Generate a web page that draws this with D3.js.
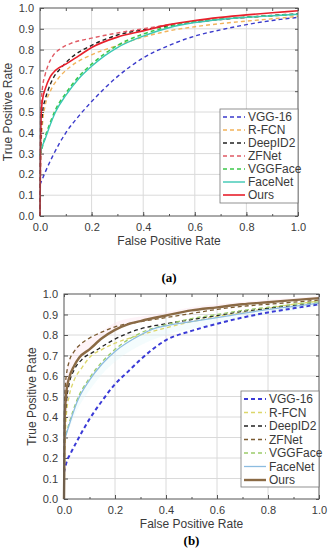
<!DOCTYPE html>
<html>
<head>
<meta charset="utf-8">
<script src="https://cdn.jsdelivr.net/npm/d3@7"></script>
<style>
  body { margin: 0; background: #fff; }
  svg { display: block; font-family: "Liberation Sans", Arial, sans-serif; }
</style>
</head>
<body>
<svg width="330" height="550"></svg>
<script>
// series names (same order in both panels)
let names = ['VGG-16', 'R-FCN', 'DeepID2', 'ZFNet', 'VGGFace', 'FaceNet', 'Ours'];

let xTicks = [0, 0.2, 0.4, 0.6, 0.8, 1.0];
let yTicks = [0, 0.1, 0.2, 0.3, 0.4, 0.5, 0.6, 0.7, 0.8, 0.9, 1.0];

// panel (a) values [FPR, TPR]
let vgg16A = [[0,0.15],[0.01,0.18],[0.02,0.21],[0.05,0.29],[0.1,0.40],[0.15,0.48],[0.2,0.55],[0.3,0.67],[0.4,0.76],[0.5,0.82],[0.6,0.865],[0.7,0.895],[0.8,0.92],[0.9,0.94],[1.0,0.955]];
let rfcnA = [[0,0],[0.003,0.3],[0.01,0.45],[0.02,0.53],[0.04,0.6],[0.07,0.66],[0.12,0.72],[0.2,0.775],[0.3,0.82],[0.4,0.86],[0.5,0.89],[0.6,0.91],[0.7,0.925],[0.8,0.937],[0.9,0.948],[1.0,0.96]];
let deepid2A = [[0,0],[0.003,0.35],[0.01,0.5],[0.02,0.56],[0.03,0.6],[0.05,0.66],[0.08,0.71],[0.12,0.76],[0.2,0.82],[0.3,0.87],[0.4,0.895],[0.5,0.915],[0.6,0.932],[0.7,0.945],[0.8,0.955],[0.9,0.964],[1.0,0.972]];
let zfnetA = [[0,0],[0.002,0.45],[0.005,0.55],[0.01,0.62],[0.02,0.68],[0.03,0.72],[0.05,0.77],[0.08,0.805],[0.12,0.83],[0.2,0.855],[0.3,0.88],[0.4,0.9],[0.5,0.92],[0.6,0.935],[0.7,0.946],[0.8,0.955],[0.9,0.963],[1.0,0.97]];
let vggfaceA = [[0,0.29],[0.02,0.38],[0.04,0.45],[0.06,0.51],[0.1,0.59],[0.15,0.67],[0.2,0.73],[0.3,0.82],[0.4,0.875],[0.5,0.91],[0.6,0.935],[0.7,0.947],[0.8,0.956],[0.9,0.963],[1.0,0.97]];
let facenetA = [[0,0.29],[0.005,0.32],[0.02,0.37],[0.04,0.44],[0.06,0.5],[0.1,0.58],[0.15,0.66],[0.2,0.72],[0.25,0.77],[0.3,0.81],[0.4,0.865],[0.5,0.905],[0.6,0.93],[0.7,0.945],[0.8,0.955],[0.9,0.963],[1.0,0.97]];
let oursA = [[0,0],[0.002,0.3],[0.005,0.5],[0.01,0.56],[0.02,0.61],[0.04,0.67],[0.06,0.7],[0.1,0.73],[0.15,0.77],[0.2,0.81],[0.3,0.86],[0.4,0.89],[0.5,0.92],[0.6,0.94],[0.7,0.955],[0.8,0.967],[0.9,0.977],[1.0,0.987]];

// panel (b) values [FPR, TPR]
let vgg16B = [[0,0.13],[0.01,0.18],[0.025,0.22],[0.05,0.28],[0.1,0.39],[0.15,0.48],[0.2,0.56],[0.25,0.62],[0.3,0.68],[0.4,0.775],[0.5,0.82],[0.6,0.855],[0.7,0.885],[0.8,0.91],[0.9,0.93],[1.0,0.95]];
let rfcnB = [[0,0],[0.005,0.3],[0.01,0.42],[0.02,0.5],[0.04,0.58],[0.07,0.64],[0.1,0.69],[0.15,0.73],[0.2,0.76],[0.3,0.8],[0.4,0.835],[0.5,0.865],[0.6,0.89],[0.7,0.91],[0.8,0.93],[0.9,0.95],[1.0,0.965]];
let deepid2B = [[0,0],[0.003,0.35],[0.01,0.48],[0.02,0.56],[0.04,0.63],[0.07,0.68],[0.12,0.72],[0.2,0.78],[0.3,0.83],[0.4,0.855],[0.5,0.875],[0.6,0.895],[0.7,0.915],[0.8,0.93],[0.9,0.943],[1.0,0.955]];
let zfnetB = [[0,0],[0.002,0.45],[0.005,0.55],[0.01,0.61],[0.02,0.67],[0.04,0.72],[0.07,0.76],[0.1,0.785],[0.15,0.815],[0.2,0.84],[0.3,0.865],[0.4,0.885],[0.5,0.905],[0.6,0.925],[0.7,0.94],[0.8,0.95],[0.9,0.96],[1.0,0.97]];
let vggfaceB = [[0,0.28],[0.02,0.37],[0.05,0.48],[0.1,0.59],[0.15,0.67],[0.2,0.73],[0.3,0.81],[0.4,0.85],[0.5,0.88],[0.6,0.9],[0.7,0.92],[0.8,0.935],[0.9,0.95],[1.0,0.962]];
let facenetB = [[0,0.28],[0.02,0.36],[0.05,0.47],[0.1,0.58],[0.15,0.66],[0.2,0.72],[0.3,0.8],[0.35,0.83],[0.4,0.845],[0.5,0.865],[0.6,0.885],[0.7,0.905],[0.8,0.925],[0.9,0.94],[1.0,0.955]];
let oursB = [[0,0],[0.003,0.4],[0.01,0.53],[0.02,0.59],[0.04,0.65],[0.06,0.69],[0.1,0.73],[0.15,0.785],[0.2,0.825],[0.25,0.852],[0.3,0.868],[0.4,0.895],[0.5,0.92],[0.6,0.935],[0.7,0.95],[0.8,0.96],[0.9,0.97],[1.0,0.98]];

// faint bands in panel (b)
let oursBandB = [[0.0,0.55],[0.02,0.68],[0.05,0.74],[0.1,0.78],[0.15,0.82],[0.2,0.86],[0.3,0.89],[0.4,0.91],[0.5,0.935],[0.6,0.95],[0.7,0.962],[0.8,0.972],[0.9,0.98],[1.0,0.99]];
let facenetBandB = [[0.02,0.34],[0.05,0.43],[0.1,0.53],[0.15,0.61],[0.2,0.67],[0.3,0.75],[0.4,0.8],[0.5,0.83],[0.6,0.855],[0.7,0.88],[0.8,0.9],[0.9,0.92],[1.0,0.94]];

let svg = d3.select('svg');

let drawPanel = (p) => {
    let x = d3.scaleLinear().domain([0, 1]).range([p.left, p.right]);
    let y = d3.scaleLinear().domain([0, 1]).range([p.bottom, p.top]);
    let g = svg.append('g');

    // grid
    g.selectAll('.gx').data(xTicks.slice(1, -1)).enter().append('line')
        .attr('x1', d => x(d)).attr('x2', d => x(d))
        .attr('y1', p.top).attr('y2', p.bottom)
        .attr('stroke', '#dadada').attr('stroke-width', 1);
    g.selectAll('.gy').data(yTicks.slice(1, -1)).enter().append('line')
        .attr('y1', d => y(d)).attr('y2', d => y(d))
        .attr('x1', p.left).attr('x2', p.right)
        .attr('stroke', '#dadada').attr('stroke-width', 1);

    // bands
    (p.bands || []).forEach(b => {
        let area = d3.area().x(d => x(d[0])).y0(d => y(b.base(d[0]))).y1(d => y(d[1])).curve(d3.curveMonotoneX);
        g.append('path').datum(b.data).attr('d', area)
            .attr('fill', b.color).attr('opacity', 0.35);
    });

    // axes
    let minor = d3.range(0, 1.001, 0.1);
    let xAxis = d3.axisBottom(x).tickValues(xTicks).tickFormat(d3.format('.1f')).tickSizeInner(-4).tickSizeOuter(0).tickPadding(7);
    let xMinor = d3.axisBottom(x).tickValues(minor).tickFormat('').tickSizeInner(-2).tickSizeOuter(0);
    let yAxis = d3.axisLeft(y).tickValues(yTicks).tickFormat(d3.format('.1f')).tickSizeInner(-4).tickSizeOuter(0).tickPadding(6);

    let gx = g.append('g').attr('transform', 'translate(0,' + p.bottom + ')').call(xAxis);
    g.append('g').attr('transform', 'translate(0,' + p.bottom + ')').call(xMinor);
    g.append('g').attr('transform', 'translate(0,' + p.top + ')').call(d3.axisTop(x).tickValues(minor).tickFormat('').tickSizeInner(-3).tickSizeOuter(0));
    let gy = g.append('g').attr('transform', 'translate(' + p.left + ',0)').call(yAxis);
    g.append('g').attr('transform', 'translate(' + p.right + ',0)').call(d3.axisRight(y).tickValues(yTicks).tickFormat('').tickSizeInner(-3).tickSizeOuter(0));
    g.selectAll('.domain').remove();
    g.selectAll('.tick line').attr('stroke', '#555');
    gx.selectAll('text').attr('font-size', 11).attr('fill', '#3a3a3a');
    gy.selectAll('text').attr('font-size', 11).attr('fill', '#3a3a3a');

    // curves
    let line = d3.line().x(d => x(d[0])).y(d => y(d[1])).curve(d3.curveMonotoneX);
    p.series.forEach(s => {
        g.append('path').datum(s.data).attr('d', line)
            .attr('fill', 'none').attr('stroke', s.color)
            .attr('stroke-width', s.width)
            .attr('stroke-dasharray', s.dash ? '4,3' : null);
    });

    // frame
    g.append('rect').attr('x', p.left).attr('y', p.top)
        .attr('width', p.right - p.left).attr('height', p.bottom - p.top)
        .attr('fill', 'none').attr('stroke', '#555').attr('stroke-width', 1);

    // titles
    g.append('text').attr('x', (p.left + p.right) / 2).attr('y', p.bottom + 29)
        .attr('text-anchor', 'middle').attr('font-size', 12).attr('fill', '#3a3a3a')
        .text('False Positive Rate');
    g.append('text').attr('transform', 'translate(' + p.yTitleX + ',' + (p.top + p.bottom) / 2 + ') rotate(-90)')
        .attr('text-anchor', 'middle').attr('font-size', 12).attr('fill', '#3a3a3a')
        .text('True Positive Rate');
    g.append('text').attr('x', (p.left + p.right) / 2).attr('y', p.labelY)
        .attr('text-anchor', 'middle').attr('font-size', 13).attr('font-weight', 'bold')
        .attr('font-family', '"Liberation Serif", "Times New Roman", serif')
        .text(p.label);

    // legend
    let lg = g.append('g');
    lg.append('rect').attr('x', p.legX).attr('y', p.legY)
        .attr('width', p.right - p.legX).attr('height', p.legH)
        .attr('fill', '#fff').attr('stroke', '#777').attr('stroke-width', 0.8);
    p.series.forEach((s, i) => {
        let ly = p.legY + 8 + i * p.legStep;
        lg.append('line').attr('x1', p.legX + 3).attr('x2', p.legX + 25)
            .attr('y1', ly).attr('y2', ly)
            .attr('stroke', s.color).attr('stroke-width', s.width)
            .attr('stroke-dasharray', s.dash ? '4,3' : null);
        lg.append('text').attr('x', p.legX + 28).attr('y', ly + 4)
            .attr('font-size', 12).attr('fill', '#3a3a3a').text(names[i]);
    });
};

// linear lookup on a curve, used as the lower edge of a band
let interp = (arr) => (v) => {
    let xs = arr.map(d => d[0]);
    let i = Math.max(1, Math.min(arr.length - 1, d3.bisectLeft(xs, v)));
    let a = arr[i - 1], b = arr[i];
    let t = (v - a[0]) / (b[0] - a[0]);
    return a[1] + t * (b[1] - a[1]);
};

drawPanel({
    left: 40, right: 298, top: 8, bottom: 216,
    yTitleX: 12, labelY: 282, label: '(a)',
    legX: 220, legY: 109, legH: 94, legStep: 13,
    series: [
        { data: vgg16A, color: '#3a3acb', width: 1.4, dash: true },
        { data: rfcnA, color: '#f2b35a', width: 1.4, dash: true },
        { data: deepid2A, color: '#222', width: 1.4, dash: true },
        { data: zfnetA, color: '#e05a64', width: 1.4, dash: true },
        { data: vggfaceA, color: '#3cc84a', width: 1.6, dash: true },
        { data: facenetA, color: '#3cc8b4', width: 1.4, dash: false },
        { data: oursA, color: '#e8202c', width: 1.6, dash: false }
    ]
});

drawPanel({
    left: 64, right: 319, top: 294, bottom: 499,
    yTitleX: 36, labelY: 545, label: '(b)',
    legX: 241, legY: 391, legH: 96, legStep: 13.5,
    bands: [
        { data: oursBandB, base: interp(oursB), color: '#fbe0ea' },
        { data: facenetBandB, base: interp(facenetB), color: '#dff6f8' }
    ],
    series: [
        { data: vgg16B, color: '#3a3ad6', width: 2, dash: true },
        { data: rfcnB, color: '#dcd66a', width: 1.3, dash: true },
        { data: deepid2B, color: '#222', width: 1.3, dash: true },
        { data: zfnetB, color: '#7a5a30', width: 1.3, dash: true },
        { data: vggfaceB, color: '#9ccc6a', width: 1.3, dash: true },
        { data: facenetB, color: '#8cbce0', width: 1.3, dash: false },
        { data: oursB, color: '#8a6a45', width: 2.4, dash: false }
    ]
});
</script>
</body>
</html>
